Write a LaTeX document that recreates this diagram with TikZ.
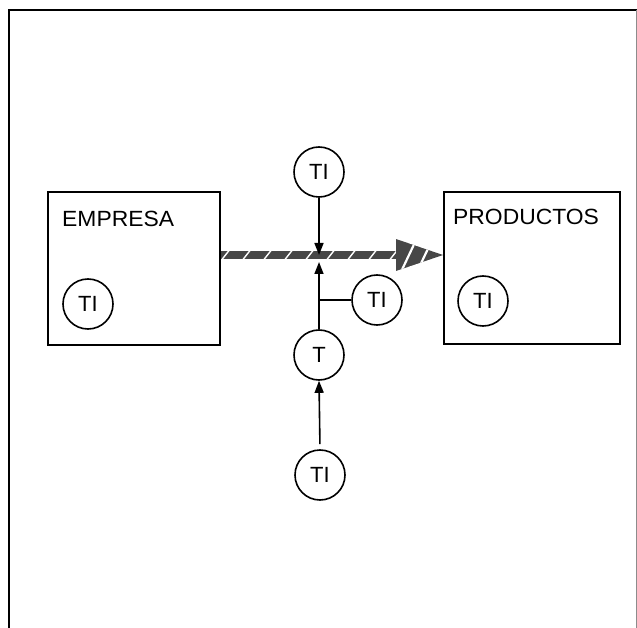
\documentclass[tikz,border=0pt]{standalone}
\usepackage{fontspec}
\setmainfont{Liberation Sans}
\usetikzlibrary{arrows.meta,calc}
\tikzset{
  box/.style={draw=black, line width=2pt, minimum width=#1, inner sep=0pt},
  box/.default=172pt,
  ring/.style={draw=black, line width=1.6pt, circle, minimum size=50pt, inner sep=0pt,
    font=\fontsize{22}{22}\selectfont},
  lbl/.style={anchor=base west, inner sep=0pt, font=\fontsize{22}{22}\selectfont, xscale=1.04},
  conn/.style={draw=black, line width=1.6pt},
  tip/.style={-{Triangle[length=12pt,width=9pt]}},
  shaft/.style={fill=black!72},
  slash/.style={draw=white, line width=1.4pt}
}
\begin{document}
\begin{tikzpicture}[x=1pt,y=-1pt]
\useasboundingbox[fill=white] (0,0) rectangle (637,628);
% frame
\draw[line width=2.4pt] (9,628) -- (9,10) -- (637,10);
\draw[black!45, line width=0.8pt] (636,10) -- (636,628);
% boxes
\node[box=172pt, minimum height=153pt] (emp) at (134,268.5) {};
\node[box=176pt, minimum height=152pt] (prod) at (532,268) {};
\node[lbl] (emptxt) at (62,227) {EMPRESA};
\node[lbl] (prodtxt) at (453,225) {PRODUCTOS};
\node[ring] (tie) at (88,304) {TI};
\node[ring] (tip2) at (483,301) {TI};
% circles in the middle
\node[ring] (ti1) at (319,172) {TI};
\node[ring] (ti2) at (377,300) {TI};
\node[ring] (t) at (319,355) {T};
\node[ring] (ti3) at (320,475) {TI};
\coordinate (ay) at (0,255);
\coordinate (uptip) at (319,262);
% hatched arrow
\fill[shaft] ($(emp.east |- ay)+(0,-4)$) rectangle (402,259);
\foreach \x in {222,243,...,390} \draw[slash] (\x,259.5) -- (\x+7,250.5);
\begin{scope}
  \clip (396,239) -- (prod.west |- ay) -- (396,271) -- cycle;
  \fill[shaft] (396,239) -- (prod.west |- ay) -- (396,271) -- cycle;
  \draw[white, line width=2.2pt] (400,274) -- (418,236);
  \draw[white, line width=2.2pt] (416,274) -- (434,236);
\end{scope}
% connectors
\draw[conn, tip] (ti1.south) -- (ti1.south |- ay);
\draw[conn, tip] (t.north) -- (uptip);
\draw[conn] (ti2.west) -- (ti2.west -| t.north);
\draw[conn, tip, shorten <=5pt] (ti3.north) -- (t.south);
\end{tikzpicture}
\end{document}
